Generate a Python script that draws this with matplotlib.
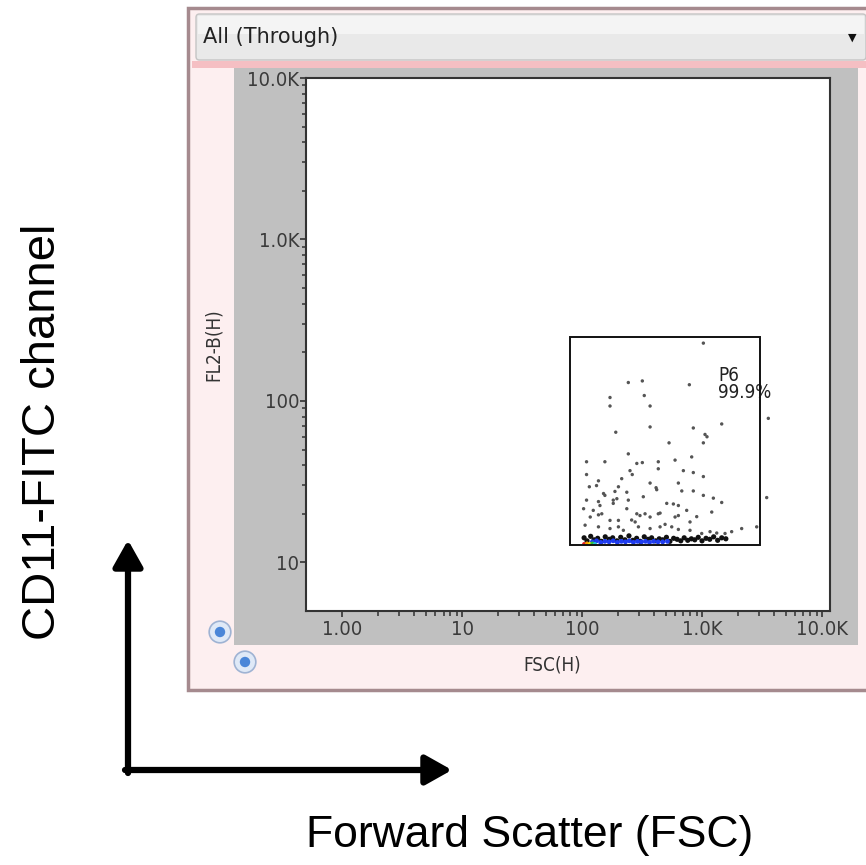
import matplotlib
matplotlib.use('Agg')
import matplotlib.pyplot as plt
from matplotlib.patches import Rectangle, FancyBboxPatch, Circle, FancyArrowPatch
from matplotlib.ticker import FixedLocator, FixedFormatter, NullFormatter

W, H = 866, 865

# tick positions and labels
x_major = [1, 10, 100, 1000, 10000]
x_major_labels = ['1.00', '10', '100', '1.0K', '10.0K']
y_major = [10, 100, 1000, 10000]
y_major_labels = ['10', '100', '1.0K', '10.0K']
x_limits = (0.5, 11660)
y_limits = (5, 10000)

# gate P6 (FSC range, FL2 range)
gate_x = (79.4, 3041)
gate_y = (12.9, 250)
gate_name = 'P6'
gate_pct = '99.9%'

# sparse events
events_x = [1026, 3570, 3460, 2855, 2140, 243, 318, 171, 171, 330, 369, 784, 191, 369, 846,
            1059, 1100, 1459, 1026, 531, 243, 109, 155, 286, 318, 432, 596, 820, 251, 262,
            432, 699, 846, 109, 214, 369, 635, 1026,
            115, 132, 137, 201, 151, 155, 188, 236, 419, 414, 678, 846, 1026, 1243, 1459,
            109, 137, 141, 182, 195, 182, 243, 324, 508, 577, 635, 103, 124, 236, 745, 1205,
            117, 137, 146, 171, 201, 259, 286, 304, 335, 369, 432, 447, 596, 635, 794, 903,
            106, 137, 171, 201, 221, 277, 295, 369, 447, 492, 559, 635, 794, 994, 1166, 1326,
            1555, 1766]
events_y = [228, 78, 25.2, 16.6, 16.2, 130, 133, 105, 93, 108, 93, 126, 64, 69, 68,
            62, 60, 72, 55, 55, 47, 42, 42, 41, 41.5, 42, 43, 45, 37, 35,
            38, 37, 36, 35, 33, 31, 31, 34,
            29.4, 29.9, 32, 29.4, 26.7, 26, 27.5, 27.2, 28.2, 29, 27.7, 27.7, 26, 25, 23.5,
            24.3, 23.8, 22.5, 24.3, 24.8, 23.2, 24.3, 25.5, 23.2, 23, 22.5, 21.5, 21, 21.5, 21, 20.5,
            19.1, 19.7, 20, 18.2, 18.2, 18.3, 20, 19.5, 20, 19.1, 20, 20.2, 19.1, 19.5, 17.8, 19.2,
            17, 16.6, 16.2, 16.6, 15.8, 17.8, 16.6, 16.2, 16.6, 17.2, 16.6, 16, 15.8, 15.1, 15.5, 15.2,
            15.1, 15.5]

# dense band near the lower gate edge
band_x = [104, 110, 118, 126, 135, 145, 156, 168, 180, 195, 210, 228, 246, 265, 285, 306, 330,
          355, 380, 410, 440, 470, 505, 540, 580, 620, 665, 710, 760, 815, 870, 930, 1000, 1080,
          1160, 1250, 1350, 1460, 1580]
band_y = [14.2, 13.6, 14.5, 13.8, 14.1, 13.5, 14.4, 13.9, 14.2, 13.6, 14.3, 13.8, 14.6, 13.7,
          14.1, 13.5, 14.4, 13.9, 14.2, 13.6, 14.0, 13.8, 14.3, 13.5, 14.1, 13.9, 13.6, 14.2, 13.7,
          14.0, 13.8, 14.3, 13.6, 14.1, 13.9, 14.4, 13.7, 14.2, 14.0]
blue_x = [122, 132, 143, 155, 168, 182, 197, 213, 230, 248, 268, 290, 313, 338, 365, 395, 430, 470, 515]
blue_y = [13.4, 13.6, 13.3, 13.5, 13.4, 13.6, 13.3, 13.5, 13.4, 13.6, 13.3, 13.5, 13.4, 13.5,
          13.3, 13.5, 13.4, 13.4, 13.5]
hot_x = [104, 110, 116, 122, 128]
hot_y = [13.0, 13.1, 13.0, 13.1, 13.0]
hot_colors = ['#e02020', '#ff9a00', '#f0e000', '#30c040', '#20c0d0']

narrow = ['DejaVu Sans']


def fx(x):
    return x / W


def fy(y):
    return 1 - y / H


fig = plt.figure(figsize=(W / 100, H / 100), dpi=100)
fig.patch.set_facecolor('white')


def box(x0, y0, x1, y1, z=-5, **kw):
    r = Rectangle((fx(x0), fy(y1)), fx(x1) - fx(x0), fy(y0) - fy(y1),
                  transform=fig.transFigure, zorder=z, **kw)
    fig.add_artist(r)
    return r


# window frame
box(188, 8, 872, 690, facecolor='#fdeff0', edgecolor='#a58a8e', linewidth=2.5)
hdr = FancyBboxPatch((fx(196), fy(60)), fx(866) - fx(196), fy(14) - fy(60),
                     boxstyle='round,pad=0,rounding_size=0.004',
                     transform=fig.transFigure, facecolor='#e9e9e9', edgecolor='#c4c4c4',
                     linewidth=1, zorder=-4)
fig.add_artist(hdr)
# lighter upper half of the header
box(198, 16, 864, 34, z=-3, facecolor='#f4f4f4', edgecolor='none')
box(192, 61, 866, 68, facecolor='#f5bfc3', edgecolor='none')
box(234, 68, 858, 645, facecolor='#c0c0c0', edgecolor='none')

fig.text(fx(203), fy(37), 'All (Through)', fontsize=15, family='DejaVu Sans',
         color='#222222', ha='left', va='center')
fig.text(fx(852), fy(38), '\u25bc', fontsize=8, color='#111111', ha='center', va='center')

# small round buttons
for cx, cy in [(220, 632), (245, 662)]:
    fig.add_artist(Circle((fx(cx), fy(cy)), 0.0125, transform=fig.transFigure,
                          facecolor='#dfe9f7', edgecolor='#9fb3d3', linewidth=1.2, zorder=3))
    fig.add_artist(Circle((fx(cx), fy(cy)), 0.006, transform=fig.transFigure,
                          facecolor='#4a86d8', edgecolor='none', zorder=4))

# plot area
ax = fig.add_axes([fx(306), fy(611), fx(830) - fx(306), fy(78) - fy(611)])
ax.set_facecolor('white')
ax.set_xscale('log')
ax.set_yscale('log')
ax.set_xlim(*x_limits)
ax.set_ylim(*y_limits)

ax.xaxis.set_major_locator(FixedLocator(x_major))
ax.xaxis.set_major_formatter(FixedFormatter(x_major_labels))
ax.yaxis.set_major_locator(FixedLocator(y_major))
ax.yaxis.set_major_formatter(FixedFormatter(y_major_labels))
x_minor = [d * k for d in x_major[:-1] for k in range(2, 10)]
y_minor = [d * k for d in y_major[:-1] for k in range(2, 10)]
ax.xaxis.set_minor_locator(FixedLocator(x_minor))
ax.yaxis.set_minor_locator(FixedLocator(y_minor))
ax.xaxis.set_minor_formatter(NullFormatter())
ax.yaxis.set_minor_formatter(NullFormatter())

ax.tick_params(axis='x', which='major', direction='out', length=4, width=1.2,
               colors='#333333', pad=2.5, labelsize=14.5)
ax.tick_params(axis='x', which='minor', direction='out', length=3.5, width=1.1, colors='#333333')
ax.tick_params(axis='y', which='major', direction='out', length=4.5, width=1.2,
               colors='#333333', pad=0.5, labelsize=14.5)
ax.tick_params(axis='y', which='minor', direction='out', length=3, width=1.1, colors='#333333')
for lab in ax.get_xticklabels() + ax.get_yticklabels():
    lab.set_family(narrow)
    lab.set_stretch('condensed')
    lab.set_color('#3a3a3a')
for sp in ax.spines.values():
    sp.set_color('#333333')
    sp.set_linewidth(1.5)

ax.set_xlabel('FSC(H)', family=narrow, stretch='condensed', fontsize=13.5,
              color='#333333', va='center')
ax.set_ylabel('FL2-B(H)', family=narrow, stretch='condensed', fontsize=13.5,
              color='#333333', va='center')
ax.xaxis.set_label_coords(0.469, -0.101)
ax.yaxis.set_label_coords(-0.177, 0.5)

# events
ax.scatter(events_x, events_y, s=6, color='#555555', edgecolors='none', zorder=3)
ax.scatter(band_x, band_y, s=14, color='#111111', edgecolors='none', zorder=3)
ax.scatter(blue_x, blue_y, s=12, color='#1f3cf0', edgecolors='none', zorder=4)
ax.scatter(hot_x, hot_y, s=8, color=hot_colors, edgecolors='none', zorder=4)

# gate
ax.add_patch(Rectangle((gate_x[0], gate_y[0]), gate_x[1] - gate_x[0], gate_y[1] - gate_y[0],
                       fill=False, edgecolor='#111111', linewidth=1.4, zorder=5))
ax.text(1360, 143, gate_name, family=narrow, stretch='condensed', fontsize=13.5,
        color='#222222', ha='left', va='center')
ax.text(1360, 112, gate_pct, family=narrow, stretch='condensed', fontsize=13.5,
        color='#222222', ha='left', va='center')

# big annotation arrows and labels
arr_kw = dict(arrowstyle='-|>,head_length=0.8,head_width=0.45', mutation_scale=20,
              color='black', linewidth=4.5, shrinkA=0, shrinkB=0, transform=fig.transFigure)
fig.add_artist(FancyArrowPatch((fx(128), fy(773)), (fx(128), fy(540)), **arr_kw))
fig.add_artist(FancyArrowPatch((fx(125), fy(770)), (fx(452), fy(770)), **arr_kw))

fig.text(fx(43), fy(432), 'CD11-FITC channel', rotation=90, fontsize=34,
         family='Liberation Sans', ha='center', va='center', color='black')
fig.text(fx(530), fy(836), 'Forward Scatter (FSC)', fontsize=32,
         family='Liberation Sans', ha='center', va='center', color='black')

fig.savefig('out.png', dpi=100)
